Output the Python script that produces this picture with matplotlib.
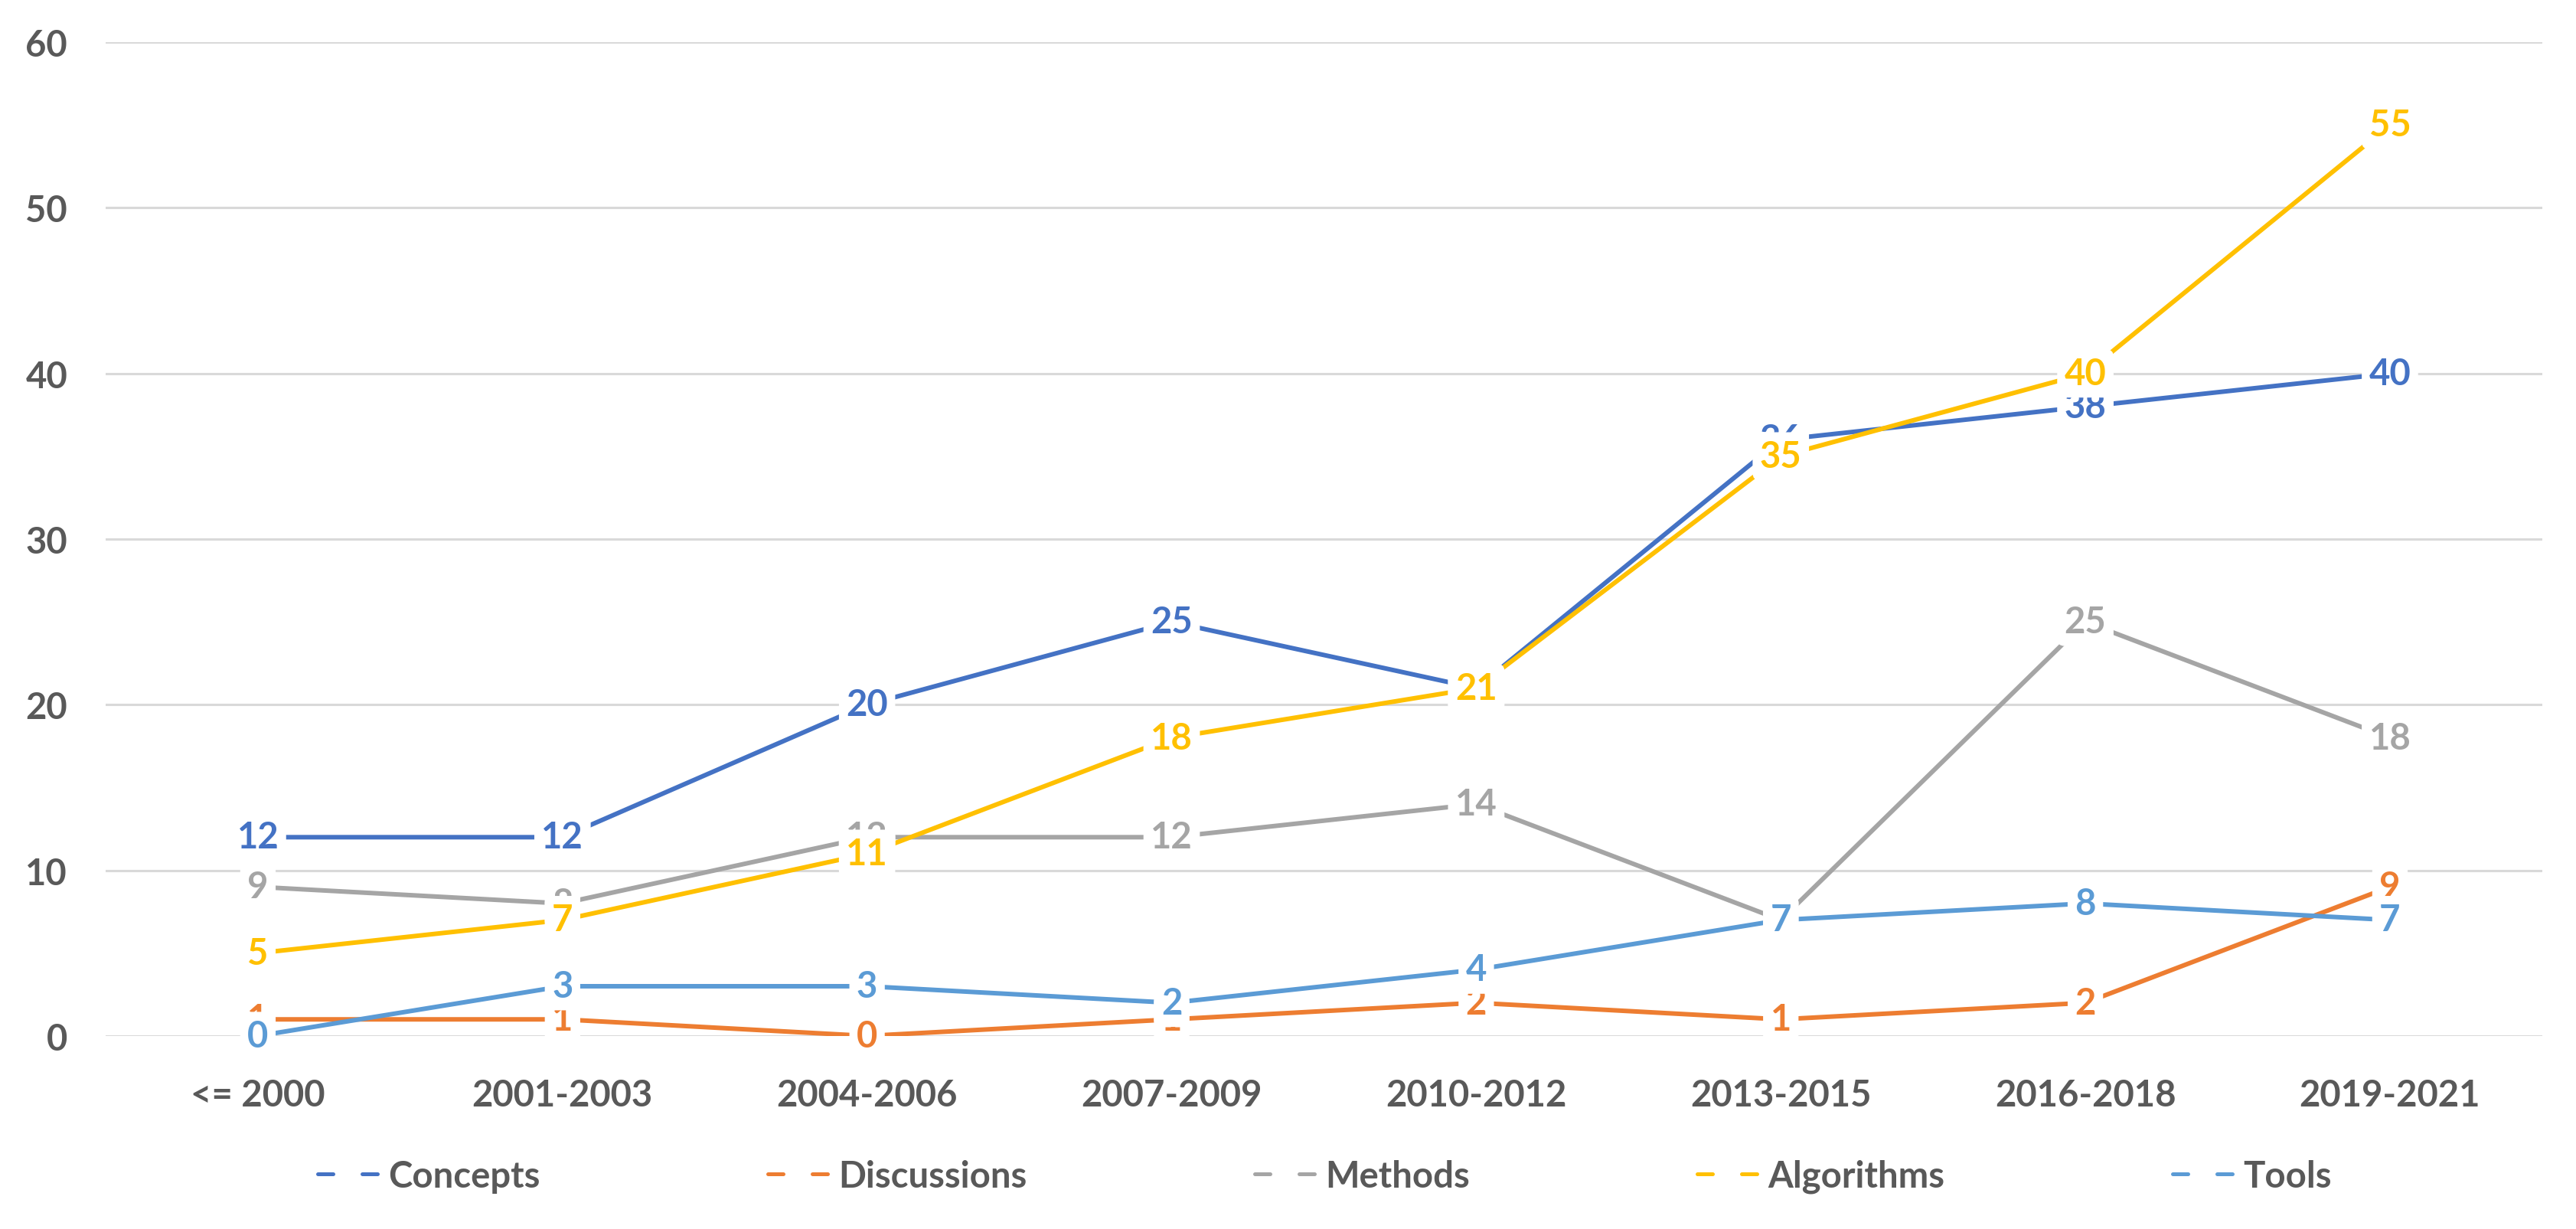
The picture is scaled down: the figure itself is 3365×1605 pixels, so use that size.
import matplotlib
matplotlib.use("Agg")
import matplotlib.pyplot as plt
from matplotlib.lines import Line2D
import numpy as np

periods = ["<= 2000", "2001-2003", "2004-2006", "2007-2009",
           "2010-2012", "2013-2015", "2016-2018", "2019-2021"]

concepts = [12, 12, 20, 25, 21, 36, 38, 40]
discussions = [1, 1, 0, 1, 2, 1, 2, 9]
methods = [9, 8, 12, 12, 14, 7, 25, 18]
algorithms = [5, 7, 11, 18, 21, 35, 40, 55]
tools = [0, 3, 3, 2, 4, 7, 8, 7]

series_names = ["Concepts", "Discussions", "Methods", "Algorithms", "Tools"]
series_vals = [concepts, discussions, methods, algorithms, tools]
colors = ["#4472C4", "#ED7D31", "#A5A5A5", "#FFC000", "#5B9BD5"]

plt.rcParams['font.family'] = ['Lato', 'DejaVu Sans']
fs = 34
txt_col = "#595959"

fig = plt.figure(figsize=(33.66, 16.06), dpi=100)
ax = fig.add_axes([0.041, 0.157, 0.9456, 0.808])

x = np.arange(len(periods))

# lines first, labels on top of everything
for vals, c in zip(series_vals, colors):
    ax.plot(x, vals, color=c, lw=4.3, solid_joinstyle='round',
            solid_capstyle='round', zorder=3)

for vals, c in zip(series_vals, colors):
    for xi, v in zip(x, vals):
        ax.text(xi, v, str(v), color=c, fontsize=fs, fontweight='bold',
                ha='center', va='center', zorder=5, clip_on=False,
                bbox=dict(boxstyle='round,pad=0.2', fc='white', ec='none'))

ax.set_xlim(-0.5, len(periods) - 0.5)
ax.set_ylim(0, 60)
ax.set_yticks(range(0, 61, 10))
ax.set_xticks(x)
ax.set_xticklabels(periods)
ax.grid(axis='y', color='#D9D9D9', lw=2.2, zorder=0)
ax.set_axisbelow(True)
for s in ax.spines.values():
    s.set_visible(False)
ax.tick_params(axis='both', length=0, labelsize=fs, colors=txt_col)
ax.tick_params(axis='y', pad=36)
ax.tick_params(axis='x', pad=40)
for lab in ax.get_xticklabels() + ax.get_yticklabels():
    lab.set_fontweight('bold')

handles = [Line2D([0], [0], color=c, lw=3.6, linestyle=(0, (4, 7.6)),
                  dash_capstyle='round') for c in colors]
leg = fig.legend(handles, series_names, loc='center', ncol=5,
                 bbox_to_anchor=(0.514, 0.043), frameon=False,
                 fontsize=fs, handlelength=1.8, handletextpad=0.15,
                 columnspacing=6.3)
for t in leg.get_texts():
    t.set_color(txt_col)
    t.set_fontweight('bold')

fig.savefig("out.png", dpi=100, facecolor='white')
